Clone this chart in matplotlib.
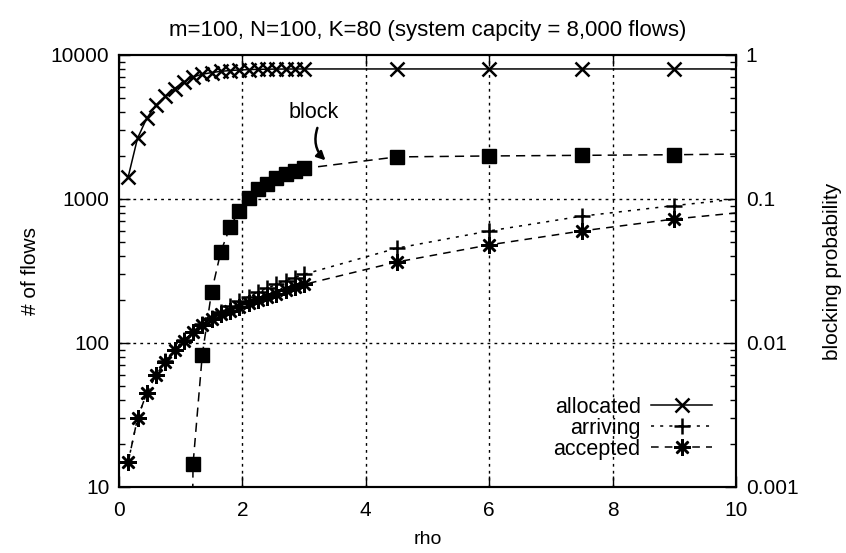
import numpy as np
import matplotlib
matplotlib.use('Agg')
import matplotlib.pyplot as plt
from matplotlib.ticker import LogLocator, NullFormatter

plt.rcParams['font.family'] = ['Liberation Sans', 'DejaVu Sans']

nan = float('nan')

rho = [0.15, 0.3, 0.45, 0.6, 0.75, 0.9, 1.05, 1.2, 1.35, 1.5,
       1.65, 1.8, 1.95, 2.1, 2.25, 2.4, 2.55, 2.7, 2.85, 3.0,
       4.5, 6.0, 7.5, 9.0, 10.5]

allocated = [1430, 2640, 3640, 4500, 5150, 5850, 6500, 7050, 7350, 7550,
             7700, 7800, 7870, 7920, 7950, 7970, 7985, 7990, 7995, 8000,
             8000, 8000, 8000, 8000, 8000]

arriving = [15, 30, 45, 60, 75, 90, 105, 120, 135, 150,
            165, 180, 195, 210, 225, 240, 255, 270, 285, 300,
            455, 600, 760, 900, 1050]

accepted = [15, 30, 45, 60, 74, 89, 104, 119, 134, 147,
            158, 168, 179, 189, 199, 209, 220, 232, 243, 255,
            365, 480, 600, 726, 840]

block = [nan, nan, nan, nan, nan, nan, 1e-9, 0.00144, 0.0083, 0.0226,
         0.043, 0.064, 0.083, 0.101, 0.117, 0.128, 0.139, 0.149, 0.157, 0.163,
         0.196, 0.199, 0.201, 0.203, 0.206]

title = "m=100, N=100, K=80 (system capcity = 8,000 flows)"

fig = plt.figure(figsize=(8.46, 5.53), dpi=100)
ax = fig.add_axes([119/846, 1-487/553, (736-119)/846, (487-55)/553])
ax2 = ax.twinx()

lw = 1.1
ax.plot(rho, allocated, color='black', lw=lw, ls='-', marker='x', ms=10, mew=1.8,
        label='allocated')
ax.plot(rho, arriving, color='black', lw=lw, ls=(0, (2, 4)), marker='+', ms=12, mew=1.8,
        label='arriving')
ax.plot(rho, accepted, color='black', lw=lw, ls=(0, (5, 4)), marker=(8, 2, 0), ms=12, mew=1.8,
        label='accepted')
ax2.plot(rho, block, color='black', lw=lw, ls=(0, (6, 4)), marker='s', ms=10,
         mfc='black', mec='black')

ax.set_xlim(0, 10)
ax.set_yscale('log')
ax.set_ylim(10, 10000)
ax2.set_yscale('log')
ax2.set_ylim(0.001, 1)

ax.set_xticks([0, 2, 4, 6, 8, 10])
ax.set_yticks([10, 100, 1000, 10000])
ax.set_yticklabels(['10', '100', '1000', '10000'])
ax2.set_yticks([0.001, 0.01, 0.1, 1])
ax2.set_yticklabels(['0.001', '0.01', '0.1', '1'])
for a in (ax, ax2):
    a.yaxis.set_minor_locator(LogLocator(base=10, subs=np.arange(2, 10)))
    a.yaxis.set_minor_formatter(NullFormatter())

ax.tick_params(axis='y', which='major', direction='in', length=8, width=1,
               labelsize=15, pad=7)
ax.tick_params(axis='x', which='major', direction='in', length=8, width=1,
               labelsize=15, pad=10, top=True)
ax.tick_params(axis='y', which='minor', direction='in', length=4, width=1)
ax2.tick_params(axis='y', which='major', direction='in', length=8, width=1,
                labelsize=15, pad=7)
ax2.tick_params(axis='y', which='minor', direction='in', length=4, width=1)

for s in ax.spines.values():
    s.set_linewidth(1.5)
for s in ax2.spines.values():
    s.set_linewidth(1.5)

for xv in [2, 4, 6, 8]:
    ax.axvline(xv, color='black', lw=1, ls=(0, (2, 3)), zorder=0)
for yv in [100, 1000]:
    ax.axhline(yv, color='black', lw=1, ls=(0, (2, 3)), zorder=0)

ax.set_xlabel('rho', fontsize=14, labelpad=8)
ax.set_ylabel('# of flows', fontsize=15, labelpad=8)
ax2.set_ylabel('blocking probability', fontsize=15, labelpad=18)
ax.set_title(title, fontsize=16, pad=14)

ax.text(3.15, 4000, 'block', fontsize=15.5, ha='center', va='center')
ax.annotate('', xy=(3.38, 1800), xytext=(3.23, 3250),
            arrowprops=dict(arrowstyle='-|>,head_length=0.5,head_width=0.25',
                            color='black', lw=1.8,
                            connectionstyle='arc3,rad=0.35'))

leg = ax.legend(loc='lower right', bbox_to_anchor=(0.985, 0.028), frameon=False,
                markerfirst=False, fontsize=15.5, handlelength=2.8, labelspacing=0.0,
                handletextpad=0.5, borderpad=0.2, numpoints=1)

fig.savefig('out.png', dpi=100)
